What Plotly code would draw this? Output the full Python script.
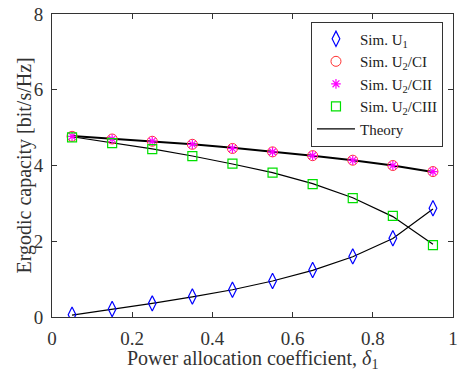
import plotly.graph_objects as go

delta = [0.05, 0.15, 0.25, 0.35, 0.45, 0.55, 0.65, 0.75, 0.85, 0.95]
sim_u1 = [0.06, 0.21, 0.36, 0.54, 0.72, 0.95, 1.24, 1.60, 2.08, 2.87]
sim_u2_ci = [4.77, 4.70, 4.64, 4.56, 4.45, 4.36, 4.26, 4.14, 4.00, 3.84]
sim_u2_cii = [4.77, 4.70, 4.64, 4.56, 4.45, 4.36, 4.26, 4.14, 4.00, 3.84]
sim_u2_ciii = [4.74, 4.59, 4.43, 4.25, 4.05, 3.81, 3.51, 3.14, 2.67, 1.90]
th_u1 = [0.05, 0.20, 0.36, 0.53, 0.72, 0.95, 1.23, 1.59, 2.07, 2.85]
th_u2_ci = [4.78, 4.71, 4.64, 4.56, 4.47, 4.37, 4.26, 4.14, 4.00, 3.83]
th_u2_ciii = [4.76, 4.61, 4.44, 4.25, 4.04, 3.81, 3.52, 3.15, 2.65, 1.92]

SERIF = "Liberation Serif, Times New Roman, serif"

fig = go.Figure()
black = dict(color="black", width=1.2)
fig.add_trace(go.Scatter(x=delta, y=th_u1, mode="lines", line=black, showlegend=False))
fig.add_trace(go.Scatter(x=delta, y=th_u2_ci, mode="lines", line=dict(color="black", width=2), showlegend=False))
fig.add_trace(go.Scatter(x=delta, y=th_u2_ciii, mode="lines", line=black, showlegend=False))

fig.add_trace(go.Scatter(x=delta, y=sim_u1, mode="markers", name="Sim. U<sub>1</sub>",
                         marker=dict(symbol="diamond-tall-open", size=11, color="#0000ff", line=dict(width=1.2))))
fig.add_trace(go.Scatter(x=delta, y=sim_u2_ci, mode="markers", name="Sim. U<sub>2</sub>/CI",
                         marker=dict(symbol="circle-open", size=10, color="#ff3030", line=dict(width=1))))
fig.add_trace(go.Scatter(x=delta, y=sim_u2_cii, mode="markers", name="Sim. U<sub>2</sub>/CII",
                         marker=dict(symbol="asterisk-open", size=8, color="#ff00ff", line=dict(width=1.2))))
fig.add_trace(go.Scatter(x=delta, y=sim_u2_ciii, mode="markers", name="Sim. U<sub>2</sub>/CIII",
                         marker=dict(symbol="square-open", size=9, color="#00e000", line=dict(width=1.2))))
fig.add_trace(go.Scatter(x=[None], y=[None], mode="lines", name="Theory", line=black))

axis_common = dict(showline=True, linecolor="#333333", linewidth=1, mirror="ticks",
                   ticks="inside", ticklen=5, tickcolor="#333333", showgrid=False, zeroline=False,
                   ticklabeloverflow="allow",
                   tickfont=dict(family=SERIF, size=19, color="#333333"))
fig.update_xaxes(range=[0, 1], tickvals=[0, 0.2, 0.4, 0.6, 0.8, 1],
                 ticktext=["0", "0.2", "0.4", "0.6", "0.8", "1"], ticklabelstandoff=4,
                 **axis_common)
fig.update_yaxes(range=[0, 8], tickvals=[0, 2, 4, 6, 8], ticklabelstandoff=4,
                 **axis_common)
fig.add_annotation(text="Power allocation coefficient, <i>δ</i><sub>1</sub>",
                   xref="paper", yref="paper", x=0.5, y=0, yshift=-42,
                   xanchor="center", yanchor="middle", showarrow=False,
                   font=dict(family=SERIF, size=20, color="#333333"))
fig.add_annotation(text="Ergodic capacity [bit/s/Hz]",
                   xref="paper", yref="paper", x=0, y=0.5, xshift=-28, textangle=-90,
                   xanchor="center", yanchor="middle", showarrow=False,
                   font=dict(family=SERIF, size=20, color="#333333"))
fig.update_layout(width=459, height=369, margin=dict(l=52, r=6, t=14, b=52, autoexpand=False),
                  font=dict(family=SERIF, size=15, color="#333333"),
                  plot_bgcolor="white", paper_bgcolor="white",
                  legend=dict(x=0.975, y=0.975, xanchor="right", yanchor="top",
                              bgcolor="white", bordercolor="#333333", borderwidth=1,
                              font=dict(family=SERIF, size=15, color="#222222"),
                              tracegroupgap=0, itemwidth=38))
fig.write_html("out.html")
